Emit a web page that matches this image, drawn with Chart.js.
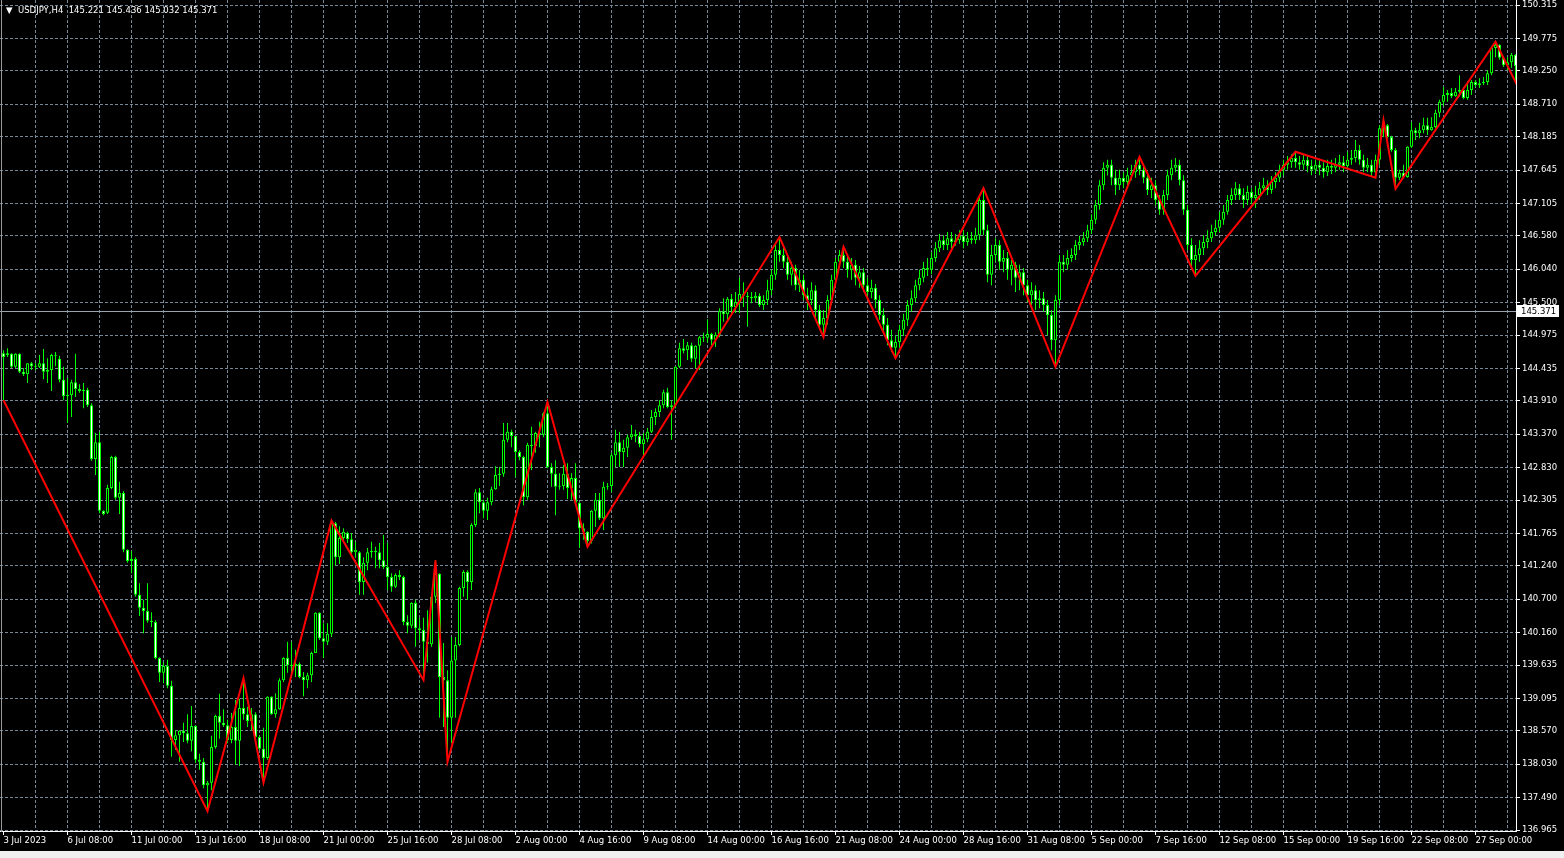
<!DOCTYPE html>
<html>
<head>
<meta charset="utf-8">
<title>USDJPY,H4</title>
<script src="https://cdn.jsdelivr.net/npm/chart.js@4.4.0/dist/chart.umd.min.js"></script>
<style>
  html, body { margin: 0; padding: 0; background: #f0f0f0; overflow: hidden; }
  #wrap { position: absolute; left: 0; top: 0; width: 1564px; height: 851px; background: #000; }
</style>
</head>
<body>
<div id="wrap"><canvas id="chart" width="1564" height="851"></canvas></div>
<script>
// --- chart data (USDJPY H4, 3 Jul - 28 Sep 2023), one entry per bar ---
const symbolName = "USDJPY,H4";
const headerOHLC = ["145.221", "145.436", "145.032", "145.371"];
const lastPrice = 145.371;

const timeLabels = ["3 Jul 2023", "6 Jul 08:00", "11 Jul 00:00", "13 Jul 16:00", "18 Jul 08:00", "21 Jul 00:00",
  "25 Jul 16:00", "28 Jul 08:00", "2 Aug 00:00", "4 Aug 16:00", "9 Aug 08:00", "14 Aug 00:00", "16 Aug 16:00",
  "21 Aug 08:00", "24 Aug 00:00", "28 Aug 16:00", "31 Aug 08:00", "5 Sep 00:00", "7 Sep 16:00", "12 Sep 08:00",
  "15 Sep 00:00", "19 Sep 16:00", "22 Sep 08:00", "27 Sep 00:00"];

const priceTicks = [150.315, 149.775, 149.250, 148.710, 148.185, 147.645, 147.105, 146.580, 146.040, 145.500,
  144.975, 144.435, 143.910, 143.370, 142.830, 142.305, 141.765, 141.240, 140.700, 140.160, 139.635, 139.095,
  138.570, 138.030, 137.490, 136.965];

const candleOpen = [
  144.68, 144.65, 144.67, 144.46, 144.67, 144.38, 144.34, 144.52, 144.47, 144.46,
  144.52, 144.38, 144.41, 144.65, 144.59, 144.25, 143.99, 144.00, 144.21, 144.10,
  144.07, 144.09, 143.84, 142.97, 143.24, 142.13, 142.10, 142.50, 143.00, 142.34,
  142.42, 141.50, 141.32, 141.35, 140.77, 140.56, 140.51, 140.35, 140.33, 139.75,
  139.51, 139.62, 139.30, 138.42, 138.50, 138.57, 138.53, 138.41, 138.65, 138.10,
  138.07, 137.69, 137.73, 138.31, 138.81, 138.70, 138.66, 138.42, 138.63, 138.41,
  138.94, 138.84, 138.73, 138.84, 138.47, 138.28, 138.13, 139.12, 138.84, 138.92,
  139.39, 139.75, 139.63, 139.62, 139.65, 139.44, 139.39, 139.47, 139.83, 140.48,
  140.07, 140.01, 140.14, 141.93, 141.38, 141.69, 141.77, 141.67, 141.46, 141.46,
  140.98, 141.29, 141.46, 141.48, 141.46, 141.33, 141.22, 141.06, 140.90, 141.09,
  141.06, 140.33, 140.27, 140.64, 140.23, 140.20, 140.01, 139.97, 140.74, 141.11,
  139.44, 139.39, 138.78, 139.71, 139.96, 140.88, 141.14, 140.98, 141.90, 142.43,
  142.27, 142.13, 142.27, 142.48, 142.71, 142.73, 143.28, 143.41, 143.34, 143.08,
  143.00, 142.35, 143.20, 143.18, 143.39, 143.36, 143.71, 142.84, 142.73, 142.52,
  142.53, 142.73, 142.50, 142.66, 142.26, 141.85, 141.79, 141.64, 142.13, 142.31,
  142.01, 142.52, 142.53, 143.03, 143.24, 143.08, 143.15, 143.32, 143.37, 143.34,
  143.21, 143.29, 143.41, 143.65, 143.73, 143.84, 144.05, 143.81, 143.84, 144.46,
  144.76, 144.73, 144.81, 144.59, 144.80, 144.94, 144.93, 144.99, 144.90, 144.98,
  145.36, 145.31, 145.56, 145.43, 145.51, 145.64, 145.61, 145.59, 145.57, 145.61,
  145.46, 145.54, 145.70, 145.95, 146.35, 146.27, 146.16, 145.95, 146.06, 145.78,
  145.87, 145.62, 145.54, 145.70, 145.38, 145.14, 145.25, 145.54, 145.87, 146.16,
  146.27, 146.16, 146.03, 146.11, 145.90, 145.99, 145.78, 145.67, 145.74, 145.54,
  145.30, 145.14, 144.89, 144.77, 144.86, 145.06, 145.22, 145.46, 145.57, 145.78,
  145.90, 146.06, 146.03, 146.22, 146.38, 146.51, 146.43, 146.54, 146.48, 146.51,
  146.58, 146.48, 146.54, 146.51, 146.59, 147.16, 146.67, 145.95, 146.27, 146.43,
  146.16, 146.22, 146.03, 146.11, 145.90, 145.99, 145.78, 145.62, 145.70, 145.54,
  145.57, 145.46, 145.30, 144.89, 145.54, 146.16, 146.11, 146.22, 146.27, 146.43,
  146.48, 146.54, 146.67, 146.84, 147.08, 147.40, 147.68, 147.73, 147.52, 147.40,
  147.52, 147.45, 147.56, 147.61, 147.73, 147.65, 147.52, 147.32, 147.40, 147.16,
  147.00, 147.24, 147.56, 147.68, 147.73, 147.48, 147.00, 146.43, 146.19, 146.27,
  146.38, 146.48, 146.54, 146.64, 146.71, 146.84, 146.97, 147.16, 147.24, 147.35,
  147.24, 147.16, 147.29, 147.19, 147.24, 147.35, 147.40, 147.32, 147.45, 147.52,
  147.65, 147.73, 147.77, 147.84, 147.77, 147.73, 147.81, 147.71, 147.65, 147.73,
  147.68, 147.61, 147.71, 147.68, 147.73, 147.77, 147.71, 147.81, 147.84, 147.97,
  147.81, 147.68, 147.73, 147.61, 147.81, 148.32, 148.37, 148.18, 147.97, 147.52,
  147.60, 147.53, 148.02, 148.29, 148.24, 148.29, 148.37, 148.29, 148.34, 148.57,
  148.75, 148.86, 148.89, 148.84, 148.91, 148.94, 148.81, 148.94, 149.07, 149.02,
  149.05, 149.07, 149.21, 149.62, 149.67, 149.46, 149.34, 149.39, 149.51
];

const candleHigh = [
  144.73, 144.76, 144.68, 144.68, 144.68, 144.44, 144.52, 144.54, 144.52, 144.65,
  144.75, 144.60, 144.67, 144.70, 144.64, 144.46, 144.28, 144.25, 144.67, 144.18,
  144.20, 144.12, 143.87, 143.39, 143.41, 142.14, 142.55, 143.02, 143.02, 142.60,
  142.45, 141.51, 141.48, 141.38, 140.96, 140.69, 140.96, 140.49, 140.36, 139.76,
  139.68, 139.72, 139.38, 138.58, 138.58, 138.70, 138.84, 138.97, 138.66, 138.20,
  138.13, 137.76, 138.49, 138.83, 139.17, 138.92, 138.75, 138.86, 139.07, 139.09,
  139.42, 138.96, 138.94, 138.87, 138.50, 138.62, 139.13, 139.13, 139.18, 139.42,
  139.76, 140.01, 140.01, 139.88, 139.68, 139.52, 139.51, 139.85, 140.49, 140.49,
  140.31, 140.31, 141.97, 141.95, 141.88, 141.85, 141.79, 141.77, 141.63, 141.48,
  141.38, 141.53, 141.63, 141.55, 141.61, 141.74, 141.61, 141.12, 141.12, 141.17,
  141.08, 140.44, 140.65, 140.69, 140.40, 140.40, 140.52, 140.77, 141.33, 141.12,
  139.99, 139.55, 140.09, 140.09, 140.90, 141.17, 141.17, 141.93, 142.48, 142.50,
  142.31, 142.34, 142.52, 142.85, 142.84, 143.55, 143.55, 143.44, 143.34, 143.11,
  143.02, 143.23, 143.49, 143.41, 143.57, 143.73, 143.89, 142.90, 142.95, 142.74,
  142.87, 142.90, 142.74, 142.90, 142.27, 141.93, 141.80, 142.14, 142.42, 142.42,
  142.60, 142.58, 143.07, 143.44, 143.41, 143.28, 143.36, 143.52, 143.44, 143.41,
  143.39, 143.47, 143.76, 143.79, 143.92, 144.09, 144.12, 143.92, 144.47, 144.85,
  144.91, 144.86, 144.85, 144.81, 144.96, 145.01, 145.23, 145.01, 145.02, 145.41,
  145.57, 145.59, 145.64, 145.67, 145.90, 145.83, 145.67, 145.67, 145.67, 145.65,
  145.62, 145.87, 146.03, 146.43, 146.56, 146.43, 146.27, 146.16, 146.11, 146.03,
  145.95, 145.74, 145.83, 145.78, 145.46, 145.38, 145.62, 145.95, 146.22, 146.35,
  146.40, 146.27, 146.22, 146.19, 146.09, 146.06, 145.90, 145.87, 145.80, 145.62,
  145.41, 145.25, 145.06, 144.97, 145.14, 145.32, 145.54, 145.70, 145.87, 146.03,
  146.16, 146.22, 146.32, 146.48, 146.61, 146.59, 146.64, 146.64, 146.61, 146.67,
  146.67, 146.64, 146.64, 146.71, 147.24, 147.35, 146.76, 146.43, 146.54, 146.51,
  146.35, 146.32, 146.19, 146.16, 146.11, 146.06, 145.87, 145.83, 145.78, 145.70,
  145.67, 145.54, 145.38, 145.62, 146.27, 146.27, 146.35, 146.38, 146.51, 146.58,
  146.64, 146.76, 146.93, 147.16, 147.48, 147.77, 147.81, 147.81, 147.65, 147.65,
  147.61, 147.68, 147.73, 147.81, 147.86, 147.73, 147.61, 147.52, 147.48, 147.24,
  147.32, 147.65, 147.81, 147.84, 147.81, 147.56, 147.08, 146.54, 146.43, 146.51,
  146.59, 146.67, 146.76, 146.84, 146.97, 147.08, 147.24, 147.35, 147.45, 147.42,
  147.35, 147.39, 147.35, 147.39, 147.45, 147.52, 147.48, 147.55, 147.61, 147.73,
  147.81, 147.87, 147.90, 147.94, 147.87, 147.89, 147.87, 147.81, 147.81, 147.81,
  147.77, 147.81, 147.81, 147.84, 147.89, 147.87, 147.94, 147.97, 148.13, 148.05,
  147.89, 147.84, 147.81, 147.89, 148.37, 148.45, 148.39, 148.20, 148.00, 147.65,
  147.73, 148.03, 148.42, 148.33, 148.41, 148.49, 148.49, 148.50, 148.62, 148.78,
  148.99, 148.94, 148.97, 148.97, 149.18, 148.99, 149.07, 149.10, 149.10, 149.13,
  149.15, 149.26, 149.64, 149.72, 149.68, 149.47, 149.47, 149.54, 149.52
];

const candleLow = [
  143.92, 144.62, 144.44, 144.44, 144.36, 144.31, 144.20, 144.41, 144.41, 144.44,
  144.26, 144.20, 144.07, 144.47, 144.21, 143.92, 143.55, 143.65, 143.97, 144.04,
  143.79, 143.81, 142.94, 142.71, 142.09, 142.06, 142.08, 142.48, 142.31, 142.08,
  141.46, 141.29, 141.12, 140.74, 140.43, 140.15, 140.32, 140.25, 139.73, 139.36,
  139.34, 139.26, 138.15, 138.26, 138.07, 138.39, 138.37, 138.24, 138.05, 137.94,
  137.64, 137.27, 137.61, 138.28, 138.44, 138.63, 138.37, 138.37, 138.02, 138.00,
  138.75, 138.63, 138.58, 138.45, 138.26, 137.73, 138.10, 138.83, 138.78, 138.91,
  139.36, 139.51, 139.44, 139.44, 139.42, 139.13, 139.26, 139.36, 139.83, 140.04,
  139.75, 139.96, 140.09, 141.25, 141.27, 141.61, 141.61, 141.38, 141.37, 140.77,
  140.77, 141.17, 141.37, 141.20, 141.20, 141.19, 140.85, 140.82, 140.88, 141.01,
  140.28, 140.15, 140.23, 139.93, 140.04, 139.39, 139.67, 139.93, 140.64, 138.78,
  138.63, 138.07, 138.37, 138.78, 139.94, 140.74, 140.69, 140.85, 141.87, 142.09,
  142.01, 141.98, 142.22, 142.47, 142.53, 142.68, 143.24, 143.16, 142.68, 142.95,
  142.22, 142.31, 142.79, 143.07, 143.16, 143.32, 142.82, 142.52, 142.06, 142.47,
  142.47, 142.32, 142.31, 142.22, 141.53, 141.66, 141.55, 141.60, 141.87, 141.98,
  141.82, 142.47, 142.43, 142.84, 142.84, 142.84, 143.00, 143.28, 143.24, 143.16,
  143.00, 143.24, 143.39, 143.52, 143.65, 143.79, 143.79, 143.28, 143.79, 144.44,
  144.68, 144.57, 144.54, 144.44, 144.41, 144.86, 144.85, 144.81, 144.78, 144.94,
  145.19, 145.19, 145.33, 145.33, 145.33, 145.43, 145.11, 145.49, 145.51, 145.43,
  145.38, 145.46, 145.62, 145.87, 146.16, 146.06, 145.87, 145.78, 145.70, 145.67,
  145.54, 145.38, 145.46, 145.22, 145.06, 144.94, 145.14, 145.46, 145.78, 146.06,
  146.06, 145.90, 145.87, 145.78, 145.74, 145.67, 145.54, 145.57, 145.41, 145.22,
  145.02, 144.81, 144.70, 144.60, 144.77, 144.96, 145.12, 145.35, 145.51, 145.70,
  145.83, 145.93, 145.96, 146.16, 146.32, 146.35, 146.35, 146.38, 146.42, 146.45,
  146.38, 146.42, 146.45, 146.45, 146.51, 146.59, 145.83, 145.78, 146.16, 146.03,
  145.99, 145.87, 145.78, 145.67, 145.70, 145.62, 145.51, 145.46, 145.38, 145.41,
  145.35, 144.97, 144.73, 144.46, 145.46, 145.99, 146.03, 146.16, 146.19, 146.35,
  146.42, 146.48, 146.61, 146.77, 147.00, 147.32, 147.56, 147.40, 147.24, 147.32,
  147.35, 147.39, 147.48, 147.52, 147.56, 147.43, 147.24, 147.19, 147.08, 146.92,
  146.92, 147.16, 147.48, 147.61, 147.40, 146.92, 146.35, 146.06, 145.93, 146.16,
  146.27, 146.38, 146.48, 146.58, 146.64, 146.76, 146.92, 147.08, 147.16, 147.16,
  147.03, 147.08, 147.09, 147.03, 147.16, 147.29, 147.24, 147.26, 147.35, 147.45,
  147.56, 147.65, 147.68, 147.68, 147.65, 147.65, 147.61, 147.56, 147.58, 147.56,
  147.52, 147.55, 147.58, 147.61, 147.65, 147.61, 147.65, 147.73, 147.77, 147.73,
  147.61, 147.61, 147.55, 147.52, 147.73, 148.18, 148.16, 147.94, 147.34, 147.48,
  147.52, 147.52, 148.00, 148.13, 148.16, 148.24, 148.21, 148.28, 148.32, 148.50,
  148.68, 148.75, 148.81, 148.83, 148.83, 148.79, 148.78, 148.86, 148.99, 148.97,
  149.02, 149.02, 149.18, 149.47, 149.43, 149.31, 149.26, 149.30, 149.05
];

const candleClose = [
  144.62, 144.68, 144.46, 144.67, 144.38, 144.34, 144.52, 144.47, 144.46, 144.52,
  144.38, 144.41, 144.65, 144.64, 144.25, 143.99, 144.00, 144.21, 144.10, 144.07,
  144.09, 143.84, 142.97, 143.24, 142.13, 142.08, 142.50, 143.00, 142.34, 142.42,
  141.50, 141.32, 141.35, 140.77, 140.56, 140.51, 140.35, 140.33, 139.75, 139.51,
  139.62, 139.30, 138.42, 138.50, 138.57, 138.53, 138.41, 138.65, 138.10, 138.07,
  137.69, 137.73, 138.31, 138.81, 138.70, 138.66, 138.42, 138.63, 138.41, 138.94,
  138.84, 138.73, 138.84, 138.47, 138.28, 138.13, 139.12, 138.84, 138.92, 139.39,
  139.75, 139.63, 139.62, 139.65, 139.44, 139.39, 139.47, 139.83, 140.48, 140.07,
  140.01, 140.14, 141.93, 141.38, 141.69, 141.79, 141.67, 141.46, 141.50, 140.98,
  141.29, 141.46, 141.48, 141.46, 141.33, 141.22, 141.06, 140.90, 141.09, 141.06,
  140.33, 140.27, 140.64, 140.23, 140.20, 140.01, 139.97, 140.74, 141.11, 139.44,
  139.39, 138.78, 139.71, 139.96, 140.88, 141.14, 140.98, 141.90, 142.43, 142.27,
  142.13, 142.27, 142.48, 142.71, 142.73, 143.28, 143.41, 143.34, 143.08, 143.00,
  142.35, 143.20, 143.18, 143.39, 143.36, 143.71, 142.84, 142.73, 142.52, 142.53,
  142.73, 142.50, 142.66, 142.26, 141.85, 141.79, 141.64, 142.13, 142.31, 142.01,
  142.52, 142.53, 143.03, 143.24, 143.08, 143.15, 143.32, 143.37, 143.34, 143.21,
  143.29, 143.41, 143.65, 143.73, 143.84, 144.05, 143.81, 143.84, 144.46, 144.76,
  144.72, 144.81, 144.59, 144.80, 144.94, 144.93, 144.99, 144.90, 144.98, 145.36,
  145.31, 145.56, 145.43, 145.51, 145.64, 145.61, 145.59, 145.57, 145.61, 145.46,
  145.54, 145.70, 145.95, 146.35, 146.27, 146.16, 145.95, 146.06, 145.78, 145.87,
  145.62, 145.54, 145.70, 145.38, 145.14, 145.25, 145.54, 145.87, 146.16, 146.27,
  146.16, 146.03, 146.11, 145.90, 145.99, 145.78, 145.67, 145.74, 145.54, 145.30,
  145.14, 144.89, 144.77, 144.86, 145.06, 145.22, 145.46, 145.57, 145.78, 145.90,
  146.06, 146.03, 146.22, 146.38, 146.51, 146.43, 146.54, 146.48, 146.51, 146.58,
  146.48, 146.54, 146.51, 146.59, 147.16, 146.67, 145.95, 146.27, 146.43, 146.16,
  146.22, 146.03, 146.11, 145.90, 145.99, 145.78, 145.62, 145.70, 145.54, 145.57,
  145.46, 145.30, 144.89, 145.54, 146.16, 146.11, 146.22, 146.27, 146.43, 146.48,
  146.54, 146.67, 146.84, 147.08, 147.40, 147.68, 147.73, 147.52, 147.40, 147.52,
  147.45, 147.56, 147.61, 147.73, 147.65, 147.52, 147.32, 147.40, 147.16, 147.00,
  147.24, 147.56, 147.68, 147.73, 147.48, 147.00, 146.43, 146.19, 146.27, 146.38,
  146.48, 146.54, 146.64, 146.71, 146.84, 146.97, 147.16, 147.24, 147.35, 147.24,
  147.16, 147.29, 147.19, 147.24, 147.35, 147.40, 147.32, 147.45, 147.52, 147.65,
  147.73, 147.77, 147.84, 147.77, 147.73, 147.81, 147.71, 147.65, 147.73, 147.68,
  147.61, 147.71, 147.68, 147.73, 147.77, 147.71, 147.81, 147.84, 147.97, 147.81,
  147.68, 147.73, 147.61, 147.81, 148.32, 148.37, 148.18, 147.97, 147.52, 147.60,
  147.53, 148.02, 148.29, 148.24, 148.29, 148.37, 148.29, 148.34, 148.57, 148.75,
  148.86, 148.89, 148.84, 148.91, 148.94, 148.81, 148.94, 149.07, 149.02, 149.05,
  149.07, 149.21, 149.62, 149.67, 149.46, 149.34, 149.39, 149.51, 149.33
];

// ZigZag turning points: bar index and price
const zigzagBar = [0, 51, 60, 65, 82, 105, 108, 111, 136, 146, 194, 205, 210, 223, 245, 263, 284, 298, 323, 343, 345, 348, 373, 381];
const zigzagPrice = [143.92, 137.27, 139.42, 137.73, 141.97, 139.39, 141.33, 138.07, 143.89, 141.55, 146.56, 144.94,
  146.40, 144.60, 147.35, 144.46, 147.86, 145.93, 147.94, 147.52, 148.45, 147.34, 149.72, 148.68];

// --- styling ---
const GREEN = '#00ff00';
const GRID = '#778899';
const TEXT = '#ffffff';
const FONT = { family: 'DejaVu Sans', size: 8.5 };
const BAR_STEP = 8;      // vertical grid every 8 bars, label every 16

const mt4Plugin = {
  id: 'mt4',
  beforeDraw(chart) {
    const { ctx, width, height } = chart;
    ctx.save();
    ctx.fillStyle = '#000';
    ctx.fillRect(0, 0, width, height);
    ctx.restore();
  },
  beforeDatasetsDraw(chart) {
    // bid line
    const { ctx, chartArea } = chart;
    const y = Math.round(chart.scales.y.getPixelForValue(lastPrice)) + 0.5;
    ctx.save();
    ctx.strokeStyle = '#9aa4ae';
    ctx.lineWidth = 1;
    ctx.beginPath();
    ctx.moveTo(chartArea.left, y);
    ctx.lineTo(chartArea.right, y);
    ctx.stroke();
    ctx.restore();
  },
  afterDraw(chart) {
    const { ctx, chartArea } = chart;
    ctx.save();
    // window edge on the left
    ctx.fillStyle = '#9a9a9a';
    ctx.fillRect(1, 0, 1, chartArea.bottom + 1);

    // header
    ctx.fillStyle = TEXT;
    ctx.font = `${FONT.size}px "${FONT.family}"`;
    ctx.textBaseline = 'alphabetic';
    ctx.textAlign = 'left';
    ctx.fillText('▼', 6, 13);
    ctx.fillText(symbolName + '  ' + headerOHLC.join(' '), 18, 13);

    // price box on the axis
    const y = Math.round(chart.scales.y.getPixelForValue(lastPrice));
    ctx.fillStyle = '#ffffff';
    ctx.fillRect(chartArea.right + 1, y - 6, 42, 12);
    ctx.fillStyle = '#000000';
    ctx.textBaseline = 'middle';
    ctx.fillText(lastPrice.toFixed(3), chartArea.right + 5, y + 0.5);
    ctx.restore();
  }
};

const ctx = document.getElementById('chart').getContext('2d');
new Chart(ctx, {
  type: 'bar',
  data: {
    datasets: [
      {
        type: 'line',
        label: 'ZigZag',
        data: zigzagBar.map((b, i) => ({ x: b, y: zigzagPrice[i] })),
        borderColor: '#ff0000',
        borderWidth: 2,
        pointRadius: 0,
        tension: 0,
        fill: false,
        clip: 0,
        order: 0
      },
      {
        label: 'body',
        data: candleOpen.map((o, i) => ({ x: i, y: [o, candleClose[i]] })),
        backgroundColor: c => candleClose[c.dataIndex] < candleOpen[c.dataIndex] ? '#ffffff' : '#000000',
        borderColor: GREEN,
        borderWidth: 1,
        borderSkipped: false,
        barThickness: 3,
        minBarLength: 1,
        grouped: false,
        inflateAmount: 0,
        clip: 0,
        order: 1
      },
      {
        label: 'wick',
        data: candleLow.map((l, i) => ({ x: i, y: [l, candleHigh[i]] })),
        backgroundColor: GREEN,
        borderWidth: 0,
        barThickness: 1,
        grouped: false,
        inflateAmount: 0,
        clip: 0,
        order: 2
      }
    ]
  },
  options: {
    responsive: false,
    devicePixelRatio: 1,
    animation: false,
    events: [],
    layout: { padding: 0 },
    plugins: { legend: { display: false }, tooltip: { enabled: false } },
    scales: {
      x: {
        type: 'linear',
        position: 'bottom',
        min: -0.875,
        max: 378.125,
        offset: false,
        bounds: 'data',
        afterBuildTicks: s => {
          s.ticks = [];
          for (let v = 0; v <= 376; v += BAR_STEP) s.ticks.push({ value: v });
        },
        afterFit: s => { s.height = 20; s.paddingLeft = 0; s.paddingRight = 0; },
        grid: {
          offset: false,
          color: c => (c.tick && c.tick.value === 0) ? 'rgba(0,0,0,0)' : GRID,
          lineWidth: 1,
          tickLength: 4,
          tickColor: c => (c.tick && c.tick.value % 16 === 0) ? TEXT : 'rgba(0,0,0,0)'
        },
        border: { display: true, color: TEXT, width: 1, dash: [3, 2] },
        ticks: {
          autoSkip: false,
          maxRotation: 0,
          minRotation: 0,
          align: 'start',
          padding: 1,
          color: TEXT,
          font: FONT,
          callback: v => v % 16 === 0 ? timeLabels[v / 16] : ''
        }
      },
      y: {
        type: 'linear',
        position: 'right',
        min: 136.949,
        max: 150.396,
        beginAtZero: false,
        bounds: 'data',
        afterBuildTicks: s => { s.ticks = priceTicks.map(v => ({ value: v })); },
        afterFit: s => { s.width = 48; s.paddingTop = 0; s.paddingBottom = 0; },
        grid: {
          color: GRID,
          lineWidth: 1,
          tickLength: 4,
          tickColor: TEXT
        },
        border: { display: true, color: TEXT, width: 1, dash: [3, 2] },
        ticks: {
          autoSkip: false,
          padding: 2,
          color: TEXT,
          font: FONT,
          callback: v => v.toFixed(3)
        }
      }
    }
  },
  plugins: [mt4Plugin]
});
</script>
</body>
</html>
